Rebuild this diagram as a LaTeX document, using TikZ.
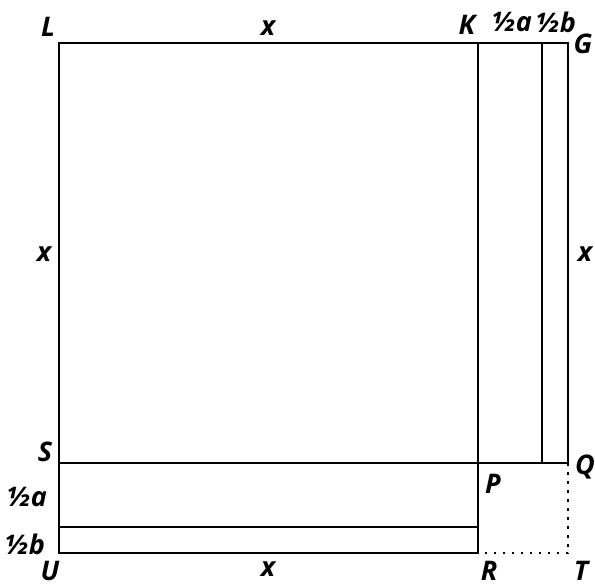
\documentclass[tikz,border=0pt]{standalone}
\usepackage{fontspec}
\setmainfont{Open Sans}
\usetikzlibrary{positioning, calc}

\begin{document}
\begin{tikzpicture}[
			x=1pt, y=-1pt,
			side/.style={line width=2.5pt},
			gap/.style={line width=2.5pt, dash pattern=on 2.5pt off 6.5pt},
			lbl/.style={font=\fontsize{27}{30}\selectfont\bfseries\itshape, inner sep=0pt}
			]
			\useasboundingbox (0,0) rectangle (595,587);
			
			% Corners
			\coordinate (L) at (59,43);
			\coordinate (K) at (478,43);
			\coordinate (H) at (542,43);
			\coordinate (G) at (568,43);
			\coordinate (S) at (59,463);
			\coordinate (P) at (478,463);
			\coordinate (M) at (542,463);
			\coordinate (Q) at (568,463);
			\coordinate (V) at (59,527);
			\coordinate (W) at (478,527);
			\coordinate (U) at (59,553);
			\coordinate (R) at (478,553);
			\coordinate (T) at (568,553);
			
			% Square and strips
			\draw[side] (L) rectangle (P);
			\draw[side] (K) rectangle (Q);
			\draw[side] (H) -- (M);
			\draw[side] (S) rectangle (R);
			\draw[side] (V) -- (W);
			
			% Missing corner
			\draw[gap] (Q) -- (T) -- (R);
			
			% Letters
			\node[lbl] (l_L) at (48,27) {L};
			\node[lbl] (l_K) at (467,25) {K};
			\node[lbl] (l_G) at (583,44) {G};
			\node[lbl] (l_S) at (45,452) {S};
			\node[lbl] (l_P) at (493,484) {P};
			\node[lbl] (l_Q) at (585,467) {Q};
			\node[lbl] (l_U) at (50,571) {U};
			\node[lbl] (l_R) at (489,571) {R};
			\node[lbl] (l_T) at (581,571) {T};
			
			% Lengths
			\node[lbl] (x_top) at (268,28) {x};
			\node[lbl] (x_left) at (44,254) {x};
			\node[lbl] (x_right) at (585,254) {x};
			\node[lbl] (x_bot) at (268,569) {x};
			\node[lbl] (a_top) at (512,22) {½a};
			\node[lbl] (b_top) at (556,22) {½b};
			\node[lbl] (a_left) at (27,497) {½a};
			\node[lbl] (b_left) at (25,544) {½b};
			
		\end{tikzpicture}
\end{document}
